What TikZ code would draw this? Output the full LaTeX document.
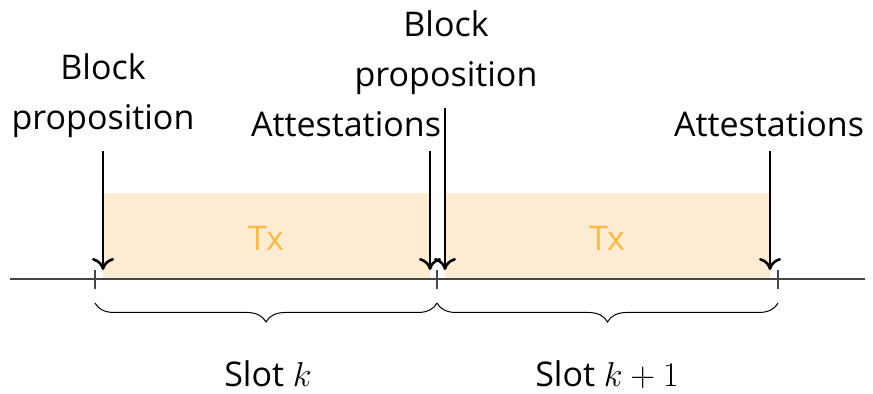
\documentclass[tikz,border=0pt]{standalone}
\usepackage{fontspec}
\setmainfont{Open Sans}
\usetikzlibrary{arrows.meta,decorations.pathreplacing}
\definecolor{txfill}{RGB}{254,236,210}
\definecolor{txtext}{RGB}{252,186,64}
\definecolor{axisgray}{RGB}{70,70,70}

\begin{document}
\begin{tikzpicture}[x=0.5pt,y=-0.5pt,
    lbl/.style={align=center, inner sep=0pt, font=\fontsize{17}{25}\selectfont},
    txlbl/.style={lbl, text=txtext},
    evt/.style={-{Computer Modern Rightarrow[length=6pt,width=11pt]}, line width=1.3pt},
    slotbrace/.style={decorate, decoration={brace,mirror,amplitude=9.5pt}, line width=0.5pt}]
    \useasboundingbox (0,0) rectangle (873,394);

    % Tx windows
    \fill[txfill] (103,193) rectangle (430,279);
    \fill[txfill] (445,193) rectangle (770,279);
    \node[txlbl] (tx1) at (266,238) {Tx};
    \node[txlbl] (tx2) at (607,238) {Tx};

    % Time axis and slot bounds
    \coordinate (axL) at (10,279);
    \coordinate (axR) at (865,279);
    \draw[axisgray, line width=1pt] (axL) -- (axR);
    \foreach \x/\name in {95/s0, 437/s1, 778/s2} {
        \coordinate (\name) at (\x,279);
        \draw[axisgray, line width=0.6pt] (\x,270) -- (\x,289);
    }

    % Events
    \coordinate (bp1top) at (103,151);  \coordinate (bp1bot) at (103,270);
    \coordinate (at1top) at (430,151);  \coordinate (at1bot) at (430,270);
    \coordinate (bp2top) at (445,108);  \coordinate (bp2bot) at (445,270);
    \coordinate (at2top) at (770,151);  \coordinate (at2bot) at (770,270);

    \node[lbl, anchor=south] (bp1) at (103,138) {Block\\proposition};
    \node[lbl, anchor=south] (at1) at (346,137) {Attestations};
    \node[lbl, anchor=south] (bp2) at (446,95) {Block\\proposition};
    \node[lbl, anchor=south] (at2) at (769,137) {Attestations};

    \draw[evt] (bp1top) -- (bp1bot);
    \draw[evt] (at1top) -- (at1bot);
    \draw[evt] (bp2top) -- (bp2bot);
    \draw[evt] (at2top) -- (at2bot);

    % Slots
    \draw[slotbrace] (95,303) -- (437,303);
    \draw[slotbrace] (437,303) -- (778,303);
    \node[lbl, anchor=base] (slot1) at (268,387) {Slot $k$};
    \node[lbl, anchor=base] (slot2) at (607,387) {Slot $k+1$};
\end{tikzpicture}
\end{document}
